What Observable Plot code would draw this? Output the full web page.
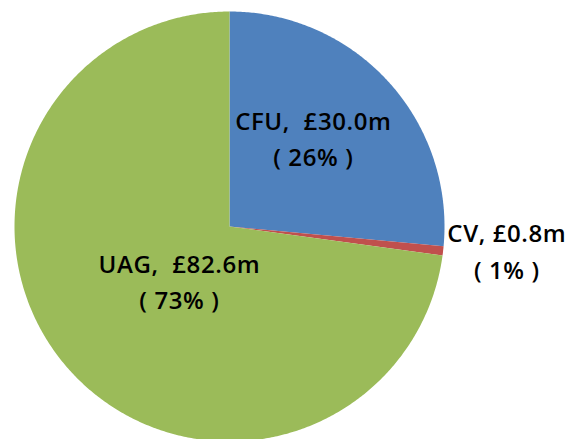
<!DOCTYPE html>
<html>
<head>
<meta charset="utf-8">
<script src="https://cdn.jsdelivr.net/npm/d3@7"></script>
<script src="https://cdn.jsdelivr.net/npm/@observablehq/plot@0.6"></script>
<style>
  html, body { margin: 0; padding: 0; background: #fff; }
</style>
</head>
<body>
<div id="chart"></div>
<script>
// ---- data ----
const categories = ["CFU", "CV", "UAG"];
const values = [30.0, 0.8, 82.6];           // £m
const colors = ["#4F81BD", "#C0504D", "#9BBB59"];
const separators = [",  ", ", ", ",  "];    // spacing after the name, as in the original labels

// ---- layout (pixels) ----
const W = 571, H = 439;
const CX = 229, CY = 226, R = 215;
// label anchor offsets from centre, in radius units (x right, y up)
const labelOffsets = {
  CFU: [0.39, 0.42],
  CV:  [1.29, -0.105],
  UAG: [-0.233, -0.245]
};

const total = d3.sum(values);
const rows = categories.map((c, i) => ({name: c, value: values[i], sep: separators[i]}));
const arcs = d3.pie().sort(null).value(d => d.value).startAngle(0).endAngle(2 * Math.PI)(rows);

// polygon points for each slice (unit radius)
const pts = [];
for (const a of arcs) {
  const name = a.data.name;
  pts.push({name, x: 0, y: 0});
  const n = Math.max(2, Math.ceil((a.endAngle - a.startAngle) / (Math.PI / 360)));
  for (let k = 0; k <= n; k++) {
    const t = a.startAngle + (a.endAngle - a.startAngle) * k / n;
    pts.push({name, x: Math.sin(t), y: Math.cos(t)});
  }
  pts.push({name, x: 0, y: 0});
}

const labels = rows.map(d => ({
  name: d.name,
  x: labelOffsets[d.name][0],
  y: labelOffsets[d.name][1],
  text: `${d.name}${d.sep}\u00A3${d.value.toFixed(1)}m\n( ${Math.round(d.value / total * 100)}% )`
}));

const chart = Plot.plot({
  width: W,
  height: H,
  margin: 0,
  style: {background: "#fff"},
  x: {domain: [-CX / R, (W - CX) / R], axis: null},
  y: {domain: [(CY - H) / R, CY / R], axis: null},
  color: {domain: categories, range: colors},
  marks: [
    Plot.line(pts, {x: "x", y: "y", z: "name", fill: "name", stroke: "none", curve: "linear"}),
    Plot.text(labels, {
      x: "x", y: "y", text: "text",
      fontSize: 24, lineHeight: 1.54,
      fontFamily: "Open Sans", fontWeight: 600,
      fill: "#000", textAnchor: "middle"
    })
  ]
});
chart.querySelectorAll("text").forEach(t => t.setAttribute("letter-spacing", "0.6"));
document.getElementById("chart").appendChild(chart);
</script>
</body>
</html>
